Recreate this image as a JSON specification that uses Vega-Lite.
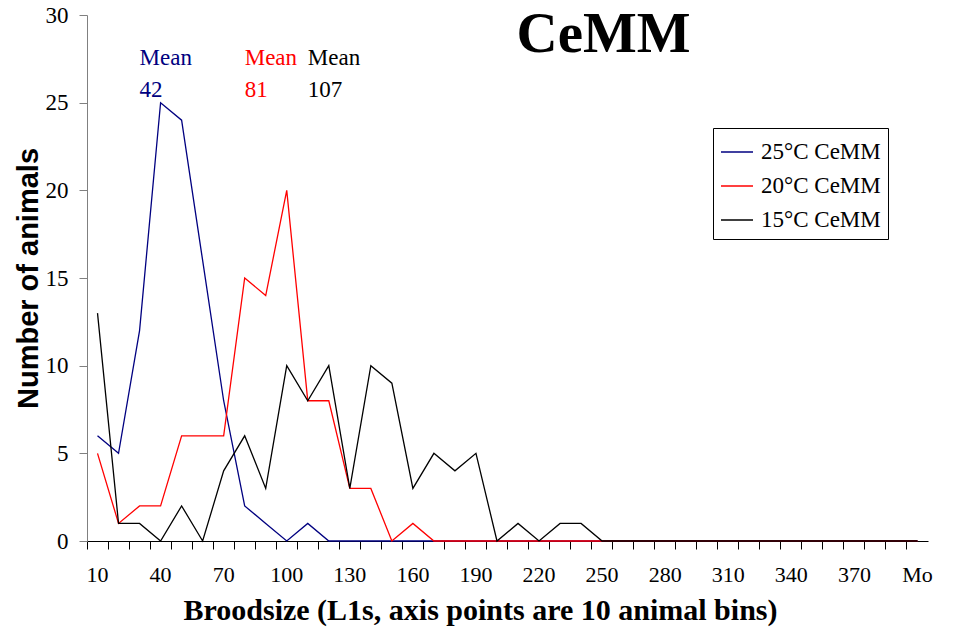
{
 "$schema": "https://vega.github.io/schema/vega-lite/v6.json",
 "width": 841,
 "height": 526,
 "autosize": {"type": "none"},
 "padding": {"left": 87, "top": 15, "right": 29, "bottom": 91},
 "background": "white",
 "config": {"view": {"stroke": null}, "font": "Liberation Serif"},
 "title": {"text": "CeMM", "font": "Liberation Serif", "fontSize": 57, "fontWeight": "bold", "color": "black", "anchor": "middle", "frame": "group", "dx": 96, "offset": -105, "baseline": "alphabetic"},
 "datasets": {
  "counts": [
   {"bin":"10","series":"25°C CeMM","count":6},{"bin":"20","series":"25°C CeMM","count":5},{"bin":"30","series":"25°C CeMM","count":12},{"bin":"40","series":"25°C CeMM","count":25},{"bin":"50","series":"25°C CeMM","count":24},{"bin":"60","series":"25°C CeMM","count":16},{"bin":"70","series":"25°C CeMM","count":8},{"bin":"80","series":"25°C CeMM","count":2},{"bin":"90","series":"25°C CeMM","count":1},{"bin":"100","series":"25°C CeMM","count":0},
   {"bin":"110","series":"25°C CeMM","count":1},{"bin":"120","series":"25°C CeMM","count":0},{"bin":"130","series":"25°C CeMM","count":0},{"bin":"140","series":"25°C CeMM","count":0},{"bin":"150","series":"25°C CeMM","count":0},{"bin":"160","series":"25°C CeMM","count":0},{"bin":"170","series":"25°C CeMM","count":0},{"bin":"180","series":"25°C CeMM","count":0},{"bin":"190","series":"25°C CeMM","count":0},{"bin":"200","series":"25°C CeMM","count":0},
   {"bin":"210","series":"25°C CeMM","count":0},{"bin":"220","series":"25°C CeMM","count":0},{"bin":"230","series":"25°C CeMM","count":0},{"bin":"240","series":"25°C CeMM","count":0},{"bin":"250","series":"25°C CeMM","count":0},{"bin":"260","series":"25°C CeMM","count":0},{"bin":"270","series":"25°C CeMM","count":0},{"bin":"280","series":"25°C CeMM","count":0},{"bin":"290","series":"25°C CeMM","count":0},{"bin":"300","series":"25°C CeMM","count":0},
   {"bin":"310","series":"25°C CeMM","count":0},{"bin":"320","series":"25°C CeMM","count":0},{"bin":"330","series":"25°C CeMM","count":0},{"bin":"340","series":"25°C CeMM","count":0},{"bin":"350","series":"25°C CeMM","count":0},{"bin":"360","series":"25°C CeMM","count":0},{"bin":"370","series":"25°C CeMM","count":0},{"bin":"380","series":"25°C CeMM","count":0},{"bin":"390","series":"25°C CeMM","count":0},{"bin":"More","series":"25°C CeMM","count":0},
   {"bin":"10","series":"20°C CeMM","count":5},{"bin":"20","series":"20°C CeMM","count":1},{"bin":"30","series":"20°C CeMM","count":2},{"bin":"40","series":"20°C CeMM","count":2},{"bin":"50","series":"20°C CeMM","count":6},{"bin":"60","series":"20°C CeMM","count":6},{"bin":"70","series":"20°C CeMM","count":6},{"bin":"80","series":"20°C CeMM","count":15},{"bin":"90","series":"20°C CeMM","count":14},{"bin":"100","series":"20°C CeMM","count":20},
   {"bin":"110","series":"20°C CeMM","count":8},{"bin":"120","series":"20°C CeMM","count":8},{"bin":"130","series":"20°C CeMM","count":3},{"bin":"140","series":"20°C CeMM","count":3},{"bin":"150","series":"20°C CeMM","count":0},{"bin":"160","series":"20°C CeMM","count":1},{"bin":"170","series":"20°C CeMM","count":0},{"bin":"180","series":"20°C CeMM","count":0},{"bin":"190","series":"20°C CeMM","count":0},{"bin":"200","series":"20°C CeMM","count":0},
   {"bin":"210","series":"20°C CeMM","count":0},{"bin":"220","series":"20°C CeMM","count":0},{"bin":"230","series":"20°C CeMM","count":0},{"bin":"240","series":"20°C CeMM","count":0},{"bin":"250","series":"20°C CeMM","count":0},{"bin":"260","series":"20°C CeMM","count":0},{"bin":"270","series":"20°C CeMM","count":0},{"bin":"280","series":"20°C CeMM","count":0},{"bin":"290","series":"20°C CeMM","count":0},{"bin":"300","series":"20°C CeMM","count":0},
   {"bin":"310","series":"20°C CeMM","count":0},{"bin":"320","series":"20°C CeMM","count":0},{"bin":"330","series":"20°C CeMM","count":0},{"bin":"340","series":"20°C CeMM","count":0},{"bin":"350","series":"20°C CeMM","count":0},{"bin":"360","series":"20°C CeMM","count":0},{"bin":"370","series":"20°C CeMM","count":0},{"bin":"380","series":"20°C CeMM","count":0},{"bin":"390","series":"20°C CeMM","count":0},{"bin":"More","series":"20°C CeMM","count":0},
   {"bin":"10","series":"15°C CeMM","count":13},{"bin":"20","series":"15°C CeMM","count":1},{"bin":"30","series":"15°C CeMM","count":1},{"bin":"40","series":"15°C CeMM","count":0},{"bin":"50","series":"15°C CeMM","count":2},{"bin":"60","series":"15°C CeMM","count":0},{"bin":"70","series":"15°C CeMM","count":4},{"bin":"80","series":"15°C CeMM","count":6},{"bin":"90","series":"15°C CeMM","count":3},{"bin":"100","series":"15°C CeMM","count":10},
   {"bin":"110","series":"15°C CeMM","count":8},{"bin":"120","series":"15°C CeMM","count":10},{"bin":"130","series":"15°C CeMM","count":3},{"bin":"140","series":"15°C CeMM","count":10},{"bin":"150","series":"15°C CeMM","count":9},{"bin":"160","series":"15°C CeMM","count":3},{"bin":"170","series":"15°C CeMM","count":5},{"bin":"180","series":"15°C CeMM","count":4},{"bin":"190","series":"15°C CeMM","count":5},{"bin":"200","series":"15°C CeMM","count":0},
   {"bin":"210","series":"15°C CeMM","count":1},{"bin":"220","series":"15°C CeMM","count":0},{"bin":"230","series":"15°C CeMM","count":1},{"bin":"240","series":"15°C CeMM","count":1},{"bin":"250","series":"15°C CeMM","count":0},{"bin":"260","series":"15°C CeMM","count":0},{"bin":"270","series":"15°C CeMM","count":0},{"bin":"280","series":"15°C CeMM","count":0},{"bin":"290","series":"15°C CeMM","count":0},{"bin":"300","series":"15°C CeMM","count":0},
   {"bin":"310","series":"15°C CeMM","count":0},{"bin":"320","series":"15°C CeMM","count":0},{"bin":"330","series":"15°C CeMM","count":0},{"bin":"340","series":"15°C CeMM","count":0},{"bin":"350","series":"15°C CeMM","count":0},{"bin":"360","series":"15°C CeMM","count":0},{"bin":"370","series":"15°C CeMM","count":0},{"bin":"380","series":"15°C CeMM","count":0},{"bin":"390","series":"15°C CeMM","count":0},{"bin":"More","series":"15°C CeMM","count":0}
  ],
  "means": [
   {"bin":"30","series":"25°C CeMM","count":27.15,"label":"Mean"},
   {"bin":"30","series":"25°C CeMM","count":25.33,"label":"42"},
   {"bin":"80","series":"20°C CeMM","count":27.15,"label":"Mean"},
   {"bin":"80","series":"20°C CeMM","count":25.33,"label":"81"},
   {"bin":"110","series":"15°C CeMM","count":27.15,"label":"Mean"},
   {"bin":"110","series":"15°C CeMM","count":25.33,"label":"107"}
  ]
 },
 "layer": [
  {
   "data": {"name": "counts"},
   "mark": {"type": "line", "strokeWidth": 1.3},
   "encoding": {
    "x": {
     "field": "bin", "type": "nominal", "bandPosition": 0.5,
     "scale": {"type": "band", "paddingInner": 0, "paddingOuter": 0,
      "domain": ["10","20","30","40","50","60","70","80","90","100","110","120","130","140","150","160","170","180","190","200","210","220","230","240","250","260","270","280","290","300","310","320","330","340","350","360","370","380","390","More"]},
     "axis": {
      "title": "Broodsize (L1s, axis points are 10 animal bins)",
      "titleFont": "Liberation Serif", "titleFontSize": 30, "titleFontWeight": "bold", "titleColor": "black",
      "titleX": 393, "titlePadding": 10,
      "labelFont": "Liberation Serif", "labelFontSize": 22, "labelColor": "black",
      "labelAngle": 0, "labelPadding": 15, "labelOverlap": false, "labelFlush": false,
      "bandPosition": 0,
      "labelExpr": "indexof(['10','40','70','100','130','160','190','220','250','280','310','340','370','More'], datum.value) >= 0 ? (datum.value == 'More' ? 'Mo' : datum.value) : ''",
      "tickSize": 8, "tickColor": "black", "domainColor": "black", "grid": false
     }
    },
    "y": {
     "field": "count", "type": "quantitative",
     "scale": {"domain": [0, 30], "nice": false, "zero": true},
     "axis": {
      "title": "Number of animals",
      "titleFont": "Liberation Sans", "titleFontSize": 29, "titleFontWeight": "bold", "titleColor": "black",
      "titlePadding": 2,
      "values": [0, 5, 10, 15, 20, 25, 30],
      "labelFont": "Liberation Serif", "labelFontSize": 23, "labelColor": "black", "labelPadding": 11,
      "tickSize": 8, "tickColor": "#808080", "domainColor": "#808080", "grid": false
     }
    },
    "color": {
     "field": "series", "type": "nominal",
     "scale": {"domain": ["25°C CeMM", "20°C CeMM", "15°C CeMM"], "range": ["#000080", "#FF0000", "#000000"]},
     "legend": {
      "title": null, "orient": "none", "legendX": 626, "legendY": 113,
      "strokeColor": "black", "fillColor": "white", "padding": 7,
      "symbolType": "stroke", "symbolSize": 1024, "symbolStrokeWidth": 1.5,
      "labelFont": "Liberation Serif", "labelFontSize": 23, "labelColor": "black", "labelOffset": 7,
      "rowPadding": 5
     }
    }
   }
  },
  {
   "data": {"name": "means"},
   "mark": {"type": "text", "align": "left", "baseline": "alphabetic", "font": "Liberation Serif", "fontSize": 23},
   "encoding": {
    "x": {"field": "bin", "type": "nominal", "bandPosition": 0.5},
    "y": {"field": "count", "type": "quantitative"},
    "text": {"field": "label", "type": "nominal"},
    "color": {"field": "series", "type": "nominal"}
   }
  }
 ]
}
